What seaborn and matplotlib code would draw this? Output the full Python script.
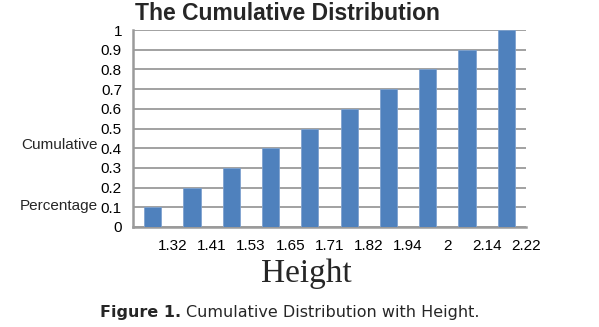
import matplotlib
matplotlib.use("Agg")
import matplotlib.pyplot as plt
import seaborn as sns
import pandas as pd

heights = ["1.32", "1.41", "1.53", "1.65", "1.71", "1.82", "1.94", "2", "2.14", "2.22"]
cumulative = [0.1, 0.2, 0.3, 0.4, 0.5, 0.6, 0.7, 0.8, 0.9, 1.0]
y_ticks = [0, 0.1, 0.2, 0.3, 0.4, 0.5, 0.6, 0.7, 0.8, 0.9, 1.0]
y_tick_labels = ["0", "0.1", "0.2", "0.3", "0.4", "0.5", "0.6", "0.7", "0.8", "0.9", "1"]

sns.set_style("white")
SANS = ["Liberation Sans", "DejaVu Sans"]
plt.rcParams["font.family"] = SANS

df = pd.DataFrame({"height": heights, "cum": cumulative})

W, H = 599, 327
fig = plt.figure(figsize=(W / 100, H / 100), dpi=100)
ax = fig.add_axes([133 / W, 1 - 227 / H, 393 / W, 197 / H])

sns.barplot(data=df, x="height", y="cum", order=heights, color="#4F81BD",
            width=0.44, saturation=1, edgecolor="#7FA2CF", linewidth=0.6,
            ax=ax, zorder=3)

ax.set_xlim(-0.5, len(heights) - 0.5)
ax.set_ylim(0, 1.0)
ax.set_yticks(y_ticks)
ax.set_yticklabels(y_tick_labels)
ax.set_xticks([i - 0.5 for i in range(len(heights) + 1)])
ax.set_xticklabels([""] + heights)
ax.set_xlabel("")
ax.set_ylabel("")

ax.grid(axis="y", color="#9A9A9A", linewidth=1.3, zorder=0)
ax.grid(axis="x", visible=False)
for s in ["top", "right"]:
    ax.spines[s].set_visible(False)
for s in ["left", "bottom"]:
    ax.spines[s].set_color("#9A9A9A")
    ax.spines[s].set_linewidth(1.8)

ax.tick_params(axis="both", which="major", length=5, width=1.3, color="#9A9A9A",
               labelsize=11, labelcolor="black", pad=3)
ax.tick_params(axis="x", pad=4)

fig.text(135 / W, 1 - 14 / H, "The Cumulative Distribution", fontsize=16.5,
         fontweight="bold", ha="left", va="center", family=SANS)

fig.text(98 / W, 1 - 145 / H, "Cumulative", fontsize=11, ha="right", va="center",
         family=SANS)
fig.text(98 / W, 1 - 206 / H, "Percentage", fontsize=11, ha="right", va="center",
         family=SANS)

fig.text(306 / W, 1 - 274 / H, "Height", fontsize=24, ha="center", va="center",
         family=["Liberation Serif", "DejaVu Serif"])

t1 = fig.text(100 / W, 1 - 313 / H, "Figure 1.", fontsize=11.5, fontweight="bold",
              ha="left", va="center", family=["DejaVu Sans"])
renderer = fig.canvas.get_renderer()
bb = t1.get_window_extent(renderer=renderer)
fig.text((bb.x1 + 5) / W, 1 - 313 / H, "Cumulative Distribution with Height.",
         fontsize=11.5, ha="left", va="center", family=["DejaVu Sans"])

fig.savefig("out.png", dpi=100)
